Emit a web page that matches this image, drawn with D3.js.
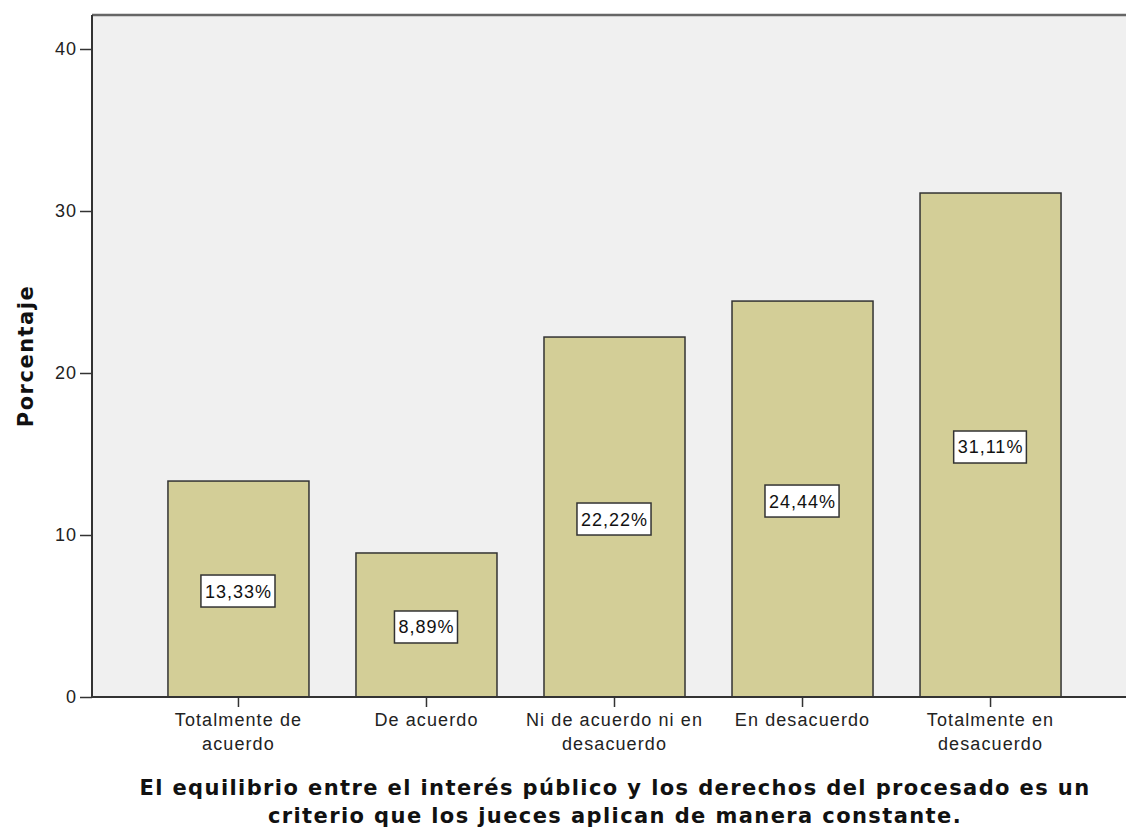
<!DOCTYPE html>
<html>
<head>
<meta charset="utf-8">
<script src="https://cdn.jsdelivr.net/npm/d3@7"></script>
<style>
  body { margin: 0; background: #fff; }
  text { font-family: "Liberation Sans", Arial, sans-serif; }
</style>
</head>
<body>
<div id="chart"></div>
<script>
var categories = [
  ["Totalmente de", "acuerdo"],
  ["De acuerdo"],
  ["Ni de acuerdo ni en", "desacuerdo"],
  ["En desacuerdo"],
  ["Totalmente en", "desacuerdo"]
];
var values = [13.33, 8.89, 22.22, 24.44, 31.11];
var labels = ["13,33%", "8,89%", "22,22%", "24,44%", "31,11%"];
var yTicks = [0, 10, 20, 30, 40];

var width = 1126, height = 829;
var plotLeft = 92, plotTop = 15, plotBottom = 697;

var svg = d3.select("#chart").append("svg")
  .attr("width", width)
  .attr("height", height);

var y = d3.scaleLinear()
  .domain([0, 40])
  .range([plotBottom, 49]);

var x = d3.scaleBand()
  .domain(d3.range(values.length))
  .range([plotLeft, 1137])
  .paddingInner(0.25)
  .paddingOuter(0.404);

// plot background
svg.append("rect")
  .attr("x", plotLeft).attr("y", plotTop)
  .attr("width", width - plotLeft).attr("height", plotBottom - plotTop)
  .attr("fill", "#f0f0f0");

svg.append("line")
  .attr("x1", plotLeft).attr("x2", width)
  .attr("y1", plotTop).attr("y2", plotTop)
  .attr("stroke", "#666").attr("stroke-width", 2.5);

// bars
svg.selectAll(".bar")
  .data(values)
  .enter().append("rect")
  .attr("class", "bar")
  .attr("x", function(d, i) { return x(i); })
  .attr("y", function(d) { return y(d); })
  .attr("width", x.bandwidth())
  .attr("height", function(d) { return plotBottom - y(d); })
  .attr("fill", "#d3ce97")
  .attr("stroke", "#333")
  .attr("stroke-width", 1.5);

// value labels
var lab = svg.selectAll(".lab")
  .data(values)
  .enter().append("g")
  .attr("transform", function(d, i) {
    return "translate(" + (x(i) + x.bandwidth() / 2) + "," + (y(d / 2) + 2) + ")";
  });

lab.append("text")
  .attr("text-anchor", "middle")
  .attr("dy", "0.36em")
  .attr("font-size", 18)
  .attr("letter-spacing", 1)
  .attr("fill", "#111")
  .text(function(d, i) { return labels[i]; })
  .each(function() {
    var b = this.getBBox();
    d3.select(this.parentNode).insert("rect", "text")
      .attr("x", b.x - 4).attr("y", -16)
      .attr("width", b.width + 7).attr("height", 32)
      .attr("fill", "#fff")
      .attr("stroke", "#333")
      .attr("stroke-width", 1.5);
  });

// y axis
var yAxis = svg.append("g")
  .attr("transform", "translate(" + plotLeft + ",0)")
  .call(d3.axisLeft(y).tickValues(yTicks).tickSize(12).tickSizeOuter(0));
yAxis.select(".domain").attr("stroke", "#333").attr("stroke-width", 2)
  .attr("d", "M0," + plotTop + "V" + plotBottom);
yAxis.selectAll(".tick line").attr("stroke", "#333").attr("stroke-width", 1.5);
yAxis.selectAll(".tick text")
  .attr("font-size", 18).attr("fill", "#222").attr("x", -15)
  .attr("letter-spacing", 1)
  .style("font-family", "Liberation Sans, Arial, sans-serif");

// x axis
var xAxis = svg.append("g")
  .attr("transform", "translate(0," + plotBottom + ")")
  .call(d3.axisBottom(x).tickSize(10).tickSizeOuter(0).tickFormat(""));
xAxis.select(".domain").attr("stroke", "#333").attr("stroke-width", 2)
  .attr("d", "M" + plotLeft + ",0H" + width);
xAxis.selectAll(".tick line").attr("stroke", "#333").attr("stroke-width", 1.5);

xAxis.selectAll(".tick").each(function(d, i) {
  var t = d3.select(this).append("text")
    .attr("text-anchor", "middle")
    .attr("font-size", 18)
    .attr("letter-spacing", 1.1)
    .attr("fill", "#222")
    .attr("y", 29);
  categories[i].forEach(function(line, k) {
    t.append("tspan").attr("x", 0).attr("dy", k === 0 ? 0 : 24).text(line);
  });
});

// axis titles
svg.append("text")
  .attr("transform", "translate(33," + ((plotTop + plotBottom) / 2) + ") rotate(-90)")
  .attr("text-anchor", "middle")
  .attr("font-size", 21)
  .attr("font-weight", "bold")
  .attr("letter-spacing", 1.5)
  .attr("fill", "#111")
  .style("font-family", "DejaVu Sans, sans-serif")
  .text("Porcentaje");

var title = svg.append("text")
  .attr("text-anchor", "middle")
  .attr("font-size", 21)
  .attr("font-weight", "bold")
  .attr("letter-spacing", 1.4)
  .attr("fill", "#111")
  .style("font-family", "DejaVu Sans, sans-serif")
  .attr("y", 795);
title.append("tspan").attr("x", 615).text("El equilibrio entre el interés público y los derechos del procesado es un");
title.append("tspan").attr("x", 615).attr("dy", 28).text("criterio que los jueces aplican de manera constante.");
</script>
</body>
</html>
